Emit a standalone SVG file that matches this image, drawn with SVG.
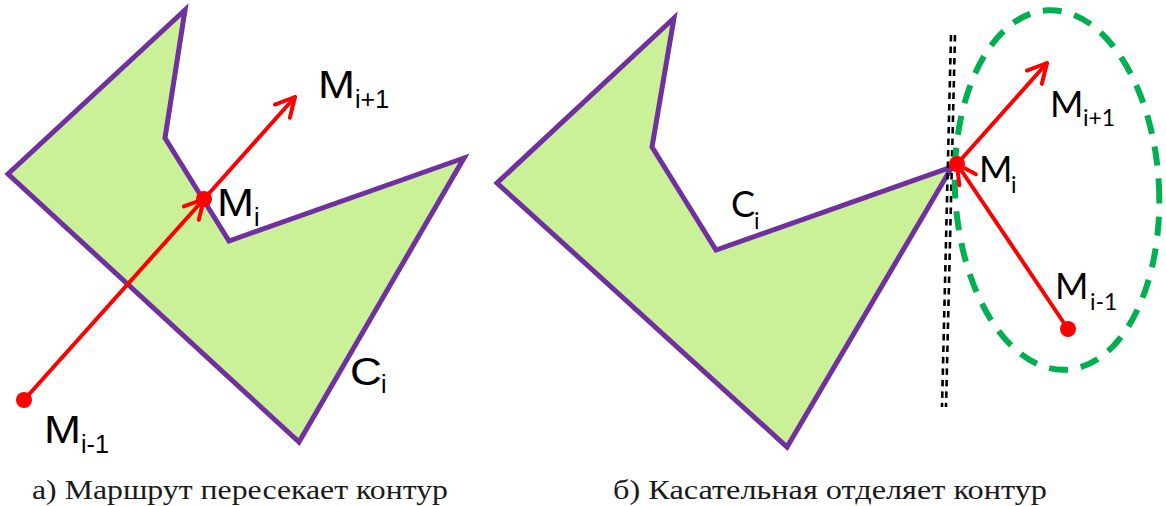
<svg xmlns="http://www.w3.org/2000/svg" width="1166" height="506" viewBox="0 0 1166 506">
<style>
.poly{fill:#CBF198;stroke:#7030A0;stroke-width:5;stroke-linejoin:miter}
.red{stroke:#FF0000;stroke-width:4;fill:none;stroke-linecap:round}
.dot{fill:#FF0000}
.la{font-family:"Liberation Sans",Arial,sans-serif;fill:#000;font-size:39px}
.las{font-family:"Liberation Sans",Arial,sans-serif;fill:#000;font-size:25px}
.lb{font-family:Lato,"Open Sans",sans-serif;fill:#000;font-size:36px}
.lbs{font-family:Lato,"Open Sans",sans-serif;fill:#000;font-size:23px}
.cap{font-family:"Liberation Serif","DejaVu Serif",serif;font-size:28px;fill:#1a1a1a}
.blk{stroke:#000;stroke-width:2.6;stroke-dasharray:6.5 5;fill:none}
</style>
<defs>
<marker id="ah" markerUnits="userSpaceOnUse" markerWidth="40" markerHeight="40" viewBox="-30 -20 40 40" refX="0" refY="0" orient="auto" overflow="visible">
<path d="M-19,-10 L0,0 L-19,10" fill="none" stroke="#FF0000" stroke-width="4" stroke-linecap="round" stroke-linejoin="round"/>
</marker>
</defs>
<g id="contour-a">
<polygon class="poly" points="185,10 165,138 229,241 464,158 299,442 8,174"/>
</g>
<g id="contour-b">
<polygon class="poly" points="674,18 652,147 716,250 952,167 787,447 497,183"/>
</g>
<g id="tangent">
<line class="blk" x1="951" y1="35" x2="942" y2="407"/>
<line class="blk" x1="955" y1="35" x2="946" y2="407"/>
</g>
<g id="region">
<ellipse cx="1057" cy="190" rx="102" ry="180" transform="rotate(-3 1057 190)" fill="none" stroke="#00B050" stroke-width="6" stroke-dasharray="19 13"/>
</g>
<g id="connectors">
<line class="red" x1="24" y1="400" x2="204" y2="199" marker-end="url(#ah)"/>
<line class="red" x1="204" y1="199" x2="295" y2="97" marker-end="url(#ah)"/>
<line class="red" x1="1068" y1="329" x2="957" y2="164" marker-end="url(#ah)"/>
<line class="red" x1="957" y1="164" x2="1047" y2="63" marker-end="url(#ah)"/>
</g>
<g id="points">
<circle class="dot" cx="24" cy="400" r="8"/>
<circle class="dot" cx="204" cy="199" r="8"/>
<circle class="dot" cx="1068" cy="329" r="8"/>
<circle class="dot" cx="957" cy="164" r="8"/>
</g>
<g id="labels-a">
<text class="la" x="318" y="98" textLength="37" lengthAdjust="spacingAndGlyphs">M</text>
<text class="las" x="355" y="108">i+1</text>
<text class="la" x="217" y="216" textLength="37" lengthAdjust="spacingAndGlyphs">M</text>
<text class="las" x="254" y="226">i</text>
<text class="la" x="44" y="443" textLength="37" lengthAdjust="spacingAndGlyphs">M</text>
<text class="las" x="81" y="453">i-1</text>
<text class="la" x="350" y="385" textLength="32" lengthAdjust="spacingAndGlyphs">C</text>
<text class="las" x="381" y="393">i</text>
</g>
<g id="labels-b">
<text class="lb" x="1050" y="117">M</text>
<text class="lbs" x="1083" y="126">i+1</text>
<text class="lb" x="979" y="182">M</text>
<text class="lbs" x="1011" y="193">i</text>
<text class="lb" x="1055" y="299">M</text>
<text class="lbs" x="1090" y="310">i-1</text>
<text class="lb" x="731" y="217">C</text>
<text class="lbs" x="754" y="229">i</text>
</g>
<g id="captions">
<text class="cap" x="32" y="499" textLength="416" lengthAdjust="spacingAndGlyphs">а) Маршрут пересекает контур</text>
<text class="cap" x="613" y="499" textLength="434" lengthAdjust="spacingAndGlyphs">б) Касательная отделяет контур</text>
</g>
</svg>
